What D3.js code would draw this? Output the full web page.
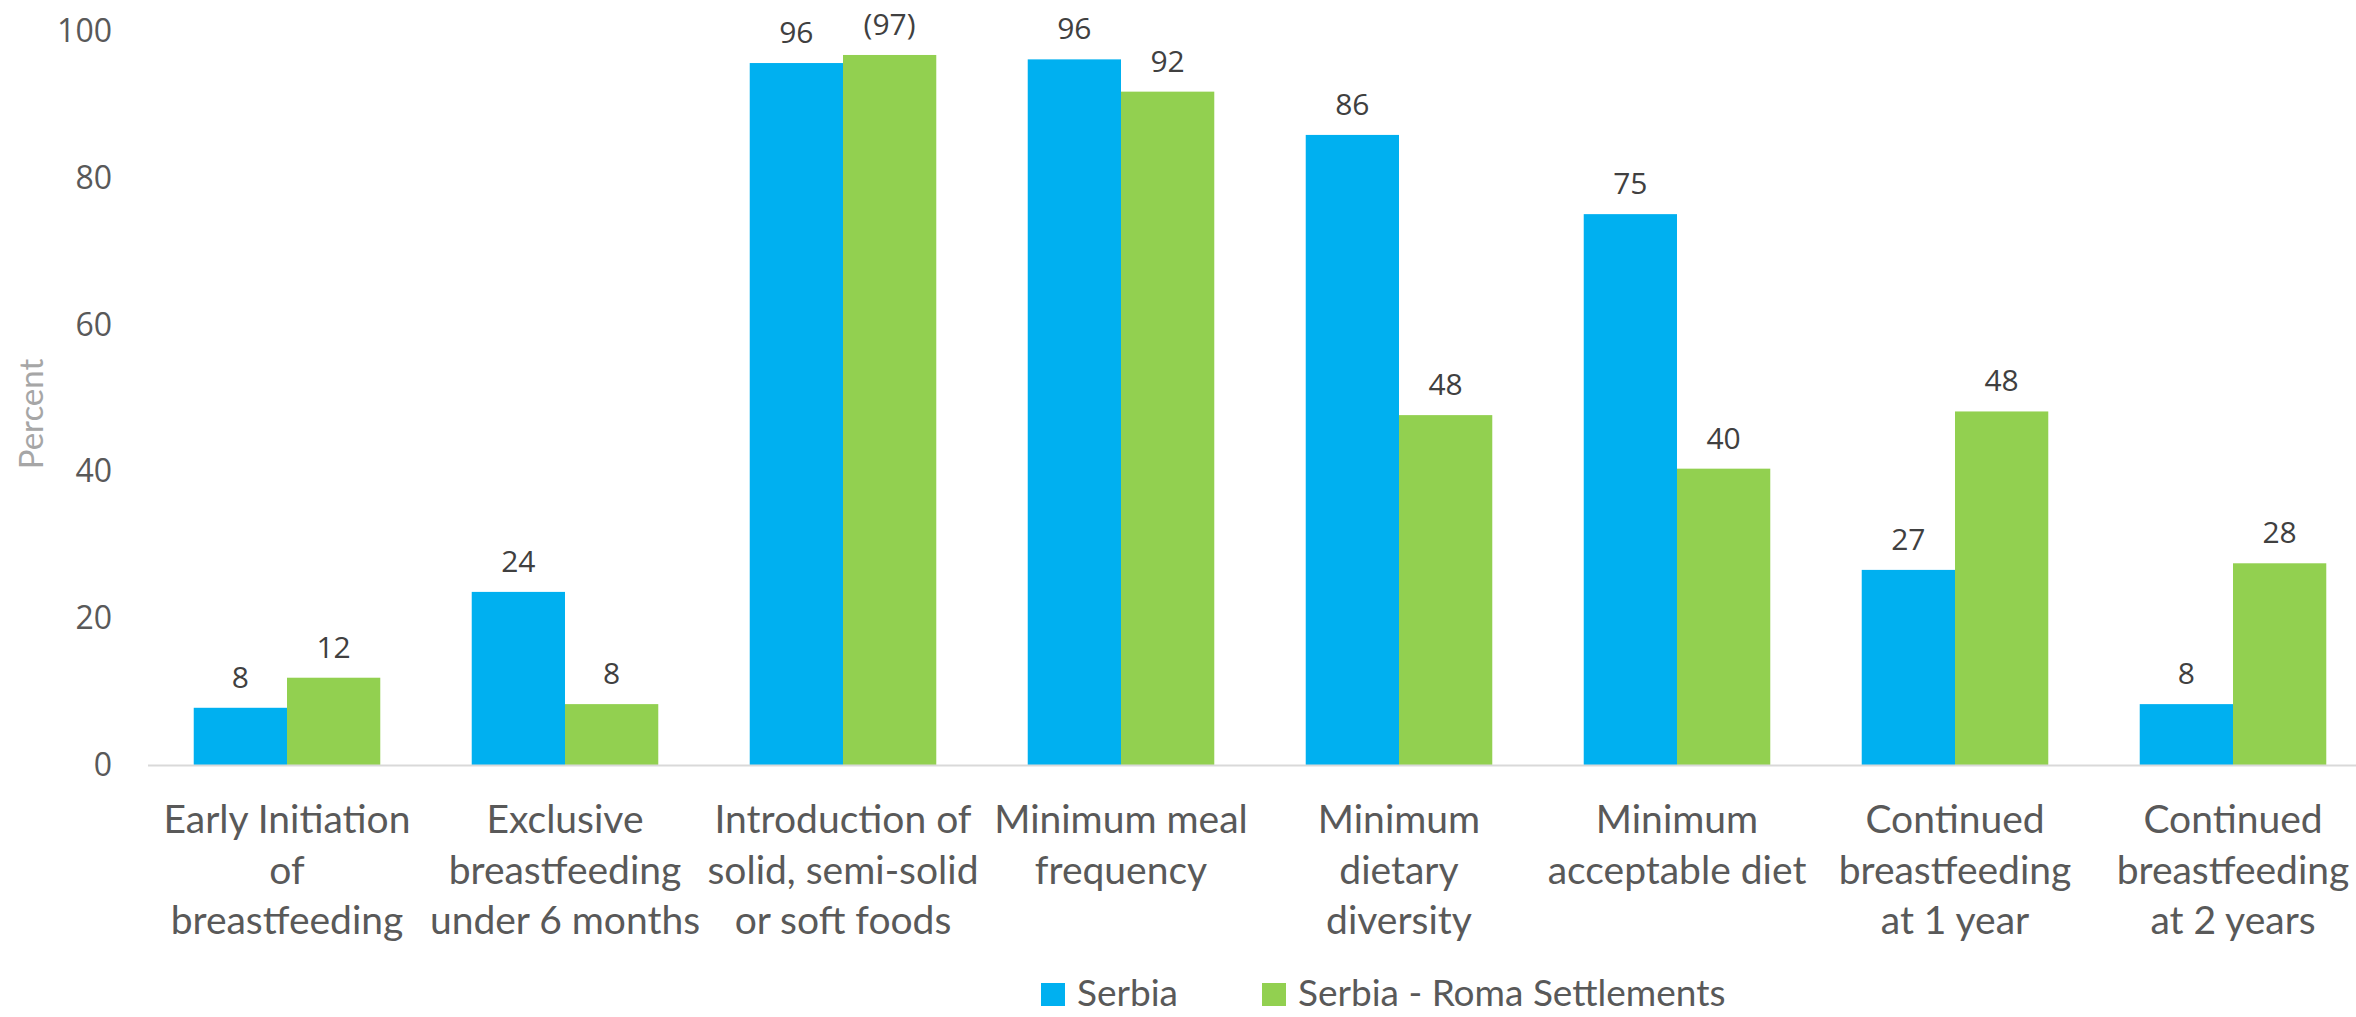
<!DOCTYPE html>
<html>
<head>
<meta charset="utf-8">
<script src="https://cdn.jsdelivr.net/npm/d3@7"></script>
<style>
  html, body { margin: 0; padding: 0; background: #fff; }
  svg { display: block; }
</style>
</head>
<body>
<div id="chart"></div>
<script>
// ---- Data ----
const categories = [
  "Early Initiation of breastfeeding",
  "Exclusive breastfeeding under 6 months",
  "Introduction of solid, semi-solid or soft foods",
  "Minimum meal frequency",
  "Minimum dietary diversity",
  "Minimum acceptable diet",
  "Continued breastfeeding at 1 year",
  "Continued breastfeeding at 2 years"
];
const categoryLines = [
  ["Early Initiation", "of", "breastfeeding"],
  ["Exclusive", "breastfeeding", "under 6 months"],
  ["Introduction of", "solid, semi-solid", "or soft foods"],
  ["Minimum meal", "frequency"],
  ["Minimum", "dietary", "diversity"],
  ["Minimum", "acceptable diet"],
  ["Continued", "breastfeeding", "at 1 year"],
  ["Continued", "breastfeeding", "at 2 years"]
];
const seriesNames = ["Serbia", "Serbia - Roma Settlements"];
const serbia = [7.8, 23.6, 95.7, 96.2, 85.9, 75.1, 26.6, 8.3];
const roma   = [11.9, 8.3, 96.8, 91.8, 47.7, 40.4, 48.2, 27.5];
const serbiaLabels = ["8", "24", "96", "96", "86", "75", "27", "8"];
const romaLabels   = ["12", "8", "(97)", "92", "48", "40", "48", "28"];
const yTicks = [0, 20, 40, 60, 80, 100];
const yTitle = "Percent";

// ---- Layout ----
const W = 2356, H = 1017;
const colors = ["#00b0f0", "#92d050"];
const numFont = "'Open Sans', 'DejaVu Sans', sans-serif";
const catFont = "Lato, 'Open Sans', sans-serif";

const svg = d3.select("#chart").append("svg")
  .attr("width", W).attr("height", H);

const x0 = d3.scaleBand().domain(categories).range([148, 2372])
  .paddingInner(0.329).paddingOuter(0.329 / 2);
const x1 = d3.scaleBand().domain(seriesNames).range([0, x0.bandwidth()]);
const y = d3.scaleLinear().domain([0, 100]).range([765, 31.5]);

// y axis
const yAxis = svg.append("g").attr("transform", "translate(148,0)")
  .call(d3.axisLeft(y).tickValues(yTicks).tickSize(0).tickPadding(36));
yAxis.select(".domain").remove();
yAxis.selectAll("text")
  .style("font-family", numFont).style("font-size", "32px").attr("fill", "#595959");

// y title
svg.append("text")
  .attr("transform", "translate(43,414) rotate(-90)")
  .attr("text-anchor", "middle")
  .style("font-family", catFont).style("font-size", "33px")
  .attr("fill", "#a6a6a6").text(yTitle);

// bars
const rows = categories.map((c, i) => ({
  cat: c,
  vals: [
    { s: seriesNames[0], v: serbia[i], lab: serbiaLabels[i], k: 0 },
    { s: seriesNames[1], v: roma[i], lab: romaLabels[i], k: 1 }
  ]
}));

const g = svg.selectAll("g.grp").data(rows).join("g")
  .attr("class", "grp")
  .attr("transform", d => `translate(${x0(d.cat)},0)`);

g.selectAll("rect").data(d => d.vals).join("rect")
  .attr("x", d => x1(d.s))
  .attr("width", x1.bandwidth())
  .attr("y", d => y(d.v))
  .attr("height", d => y(0) - y(d.v))
  .attr("fill", d => colors[d.k]);

g.selectAll("text.lab").data(d => d.vals).join("text")
  .attr("class", "lab")
  .attr("x", d => x1(d.s) + x1.bandwidth() / 2)
  .attr("y", d => y(d.v) - 20)
  .attr("text-anchor", "middle")
  .style("font-family", numFont).style("font-size", "30px")
  .attr("fill", "#404040")
  .text(d => d.lab);

// x baseline
svg.append("line")
  .attr("x1", x0.range()[0]).attr("x2", x0.range()[1])
  .attr("y1", y(0) + 0.5).attr("y2", y(0) + 0.5)
  .attr("stroke", "#d9d9d9").attr("stroke-width", 2);

// category labels
const catG = svg.selectAll("text.cat").data(categories).join("text")
  .attr("class", "cat")
  .attr("text-anchor", "middle")
  .style("font-family", catFont).style("font-size", "39px")
  .attr("fill", "#595959");
catG.each(function(d, i) {
  const t = d3.select(this);
  const cx = x0(d) + x0.bandwidth() / 2;
  categoryLines[i].forEach((line, j) => {
    t.append("tspan").attr("x", cx).attr("y", 833 + j * 50.5).text(line);
  });
});

// legend
const legend = svg.append("g");
const legX = [1041, 1262];
seriesNames.forEach((name, i) => {
  legend.append("rect")
    .attr("x", legX[i]).attr("y", 983).attr("width", 24).attr("height", 23)
    .attr("fill", colors[i]);
  legend.append("text")
    .attr("x", legX[i] + 36).attr("y", 1006)
    .style("font-family", catFont).style("font-size", "37px")
    .attr("fill", "#595959").text(name);
});
</script>
</body>
</html>
